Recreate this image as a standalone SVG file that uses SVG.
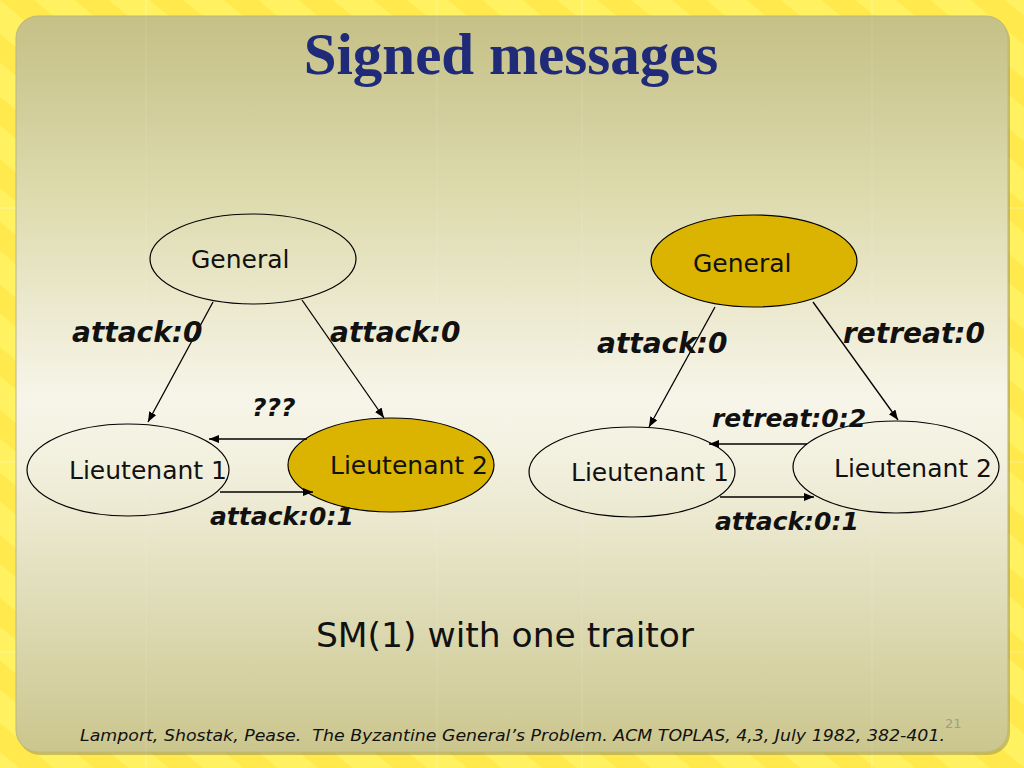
<svg xmlns="http://www.w3.org/2000/svg" width="1024" height="768" viewBox="0 0 1024 768">
<defs>
  <pattern id="stripes" patternUnits="userSpaceOnUse" width="48" height="48" patternTransform="rotate(-50)">
    <rect width="48" height="48" fill="#fff160"/>
    <rect width="22" height="48" fill="#ffe94c"/>
  </pattern>
  <linearGradient id="panel" x1="0" y1="0" x2="0" y2="1">
    <stop offset="0" stop-color="#c5c086"/>
    <stop offset="0.25" stop-color="#dedbaf"/>
    <stop offset="0.52" stop-color="#f7f5e9"/>
    <stop offset="0.62" stop-color="#f1efdc"/>
    <stop offset="1" stop-color="#cbc68d"/>
  </linearGradient>
  <marker id="arr" markerUnits="userSpaceOnUse" markerWidth="12" markerHeight="10" refX="10" refY="4" orient="auto">
    <path d="M0,0 L10,4 L0,8 Z" fill="#000"/>
  </marker>
  <style>
    .node { fill: none; stroke: #000; stroke-width: 1.2; }
    .gold { fill: #dbb402; stroke: #000; stroke-width: 1.2; }
    .nlabel { font-family: "DejaVu Sans", Verdana, sans-serif; font-size: 25px; fill: #111; }
    .elabel { font-family: "DejaVu Sans", Verdana, sans-serif; font-size: 25px; font-weight: bold; font-style: italic; fill: #111; }
    .big { font-size: 28px; }
    .conn line { stroke: #000; stroke-width: 1.3; marker-end: url(#arr); }
    .grid line { stroke: #ffffff; stroke-opacity: 0.35; stroke-width: 1; }
  </style>
</defs>

<!-- background frame -->
<rect x="0" y="0" width="1024" height="768" fill="url(#stripes)"/>
<g class="grid">
  <line x1="146" y1="0" x2="146" y2="768"/>
  <line x1="437" y1="0" x2="437" y2="768"/>
  <line x1="582" y1="0" x2="582" y2="768"/>
  <line x1="872" y1="0" x2="872" y2="768"/>
  <line x1="0" y1="208" x2="1024" y2="208"/>
  <line x1="0" y1="462" x2="1024" y2="462"/>
  <line x1="0" y1="652" x2="1024" y2="652"/>
</g>
<rect x="18" y="19" width="992" height="736" rx="22" fill="#9c9450" opacity="0.55"/>
<rect x="16" y="16" width="992" height="736" rx="22" fill="url(#panel)" stroke="#bdb87a" stroke-width="1"/>
<g class="grid" opacity="0.4">
  <line x1="146" y1="16" x2="146" y2="752"/>
  <line x1="437" y1="16" x2="437" y2="752"/>
  <line x1="582" y1="16" x2="582" y2="752"/>
  <line x1="872" y1="16" x2="872" y2="752"/>
</g>

<!-- title -->
<text x="511" y="74" text-anchor="middle" font-family="Liberation Serif, serif" font-weight="bold" font-size="59" fill="#1f2a78">Signed messages</text>

<!-- left diagram nodes -->
<g id="l-general">
  <ellipse class="node" cx="253" cy="259" rx="103" ry="45"/>
  <text class="nlabel" x="191" y="268">General</text>
</g>
<g id="l-lt1">
  <ellipse class="node" cx="128" cy="470" rx="101" ry="46"/>
  <text class="nlabel" x="69" y="479">Lieutenant 1</text>
</g>
<g id="l-lt2">
  <ellipse class="gold" cx="391" cy="465" rx="103" ry="47"/>
  <text class="nlabel" x="330" y="474">Lieutenant 2</text>
</g>

<!-- right diagram nodes -->
<g id="r-general">
  <ellipse class="gold" cx="754" cy="261" rx="103" ry="46"/>
  <text class="nlabel" x="693" y="272">General</text>
</g>
<g id="r-lt1">
  <ellipse class="node" cx="632" cy="472" rx="103" ry="45"/>
  <text class="nlabel" x="571" y="481">Lieutenant 1</text>
</g>
<g id="r-lt2">
  <ellipse class="node" cx="896" cy="467" rx="103" ry="46"/>
  <text class="nlabel" x="834" y="477">Lieutenant 2</text>
</g>

<!-- connectors -->
<g id="connectors" class="conn">
  <line x1="213" y1="302" x2="148" y2="422"/>
  <line x1="302" y1="300" x2="384" y2="418"/>
  <line x1="307" y1="439" x2="209" y2="439"/>
  <line x1="220" y1="492" x2="313" y2="492"/>
  <line x1="715" y1="307" x2="649" y2="427"/>
  <line x1="813" y1="302" x2="898" y2="420"/>
  <line x1="807" y1="444" x2="709" y2="444"/>
  <line x1="720" y1="497" x2="814" y2="497"/>
</g>

<!-- connector labels -->
<g id="labels">
  <text class="elabel big" x="72" y="342">attack:0</text>
  <text class="elabel big" x="330" y="342">attack:0</text>
  <text class="elabel" x="252" y="416">???</text>
  <text class="elabel" x="210" y="525">attack:0:1</text>
  <text class="elabel big" x="597" y="353">attack:0</text>
  <text class="elabel big" x="843" y="343">retreat:0</text>
  <text class="elabel" x="712" y="427">retreat:0:2</text>
  <text class="elabel" x="715" y="530">attack:0:1</text>
</g>

<text x="505" y="647" text-anchor="middle" font-family="DejaVu Sans, Verdana, sans-serif" font-size="34.5" fill="#111">SM(1) with one traitor</text>

<text x="80" y="741" style="white-space:pre" font-family="DejaVu Sans, Verdana, sans-serif" font-style="italic" font-size="16.5" fill="#111" textLength="865" lengthAdjust="spacingAndGlyphs">Lamport, Shostak, Pease.  The Byzantine General’s Problem. ACM TOPLAS, 4,3, July 1982, 382-401.</text>
<text x="945" y="728" font-family="DejaVu Sans, Verdana, sans-serif" font-size="13" fill="#a09f80">21</text>
</svg>
